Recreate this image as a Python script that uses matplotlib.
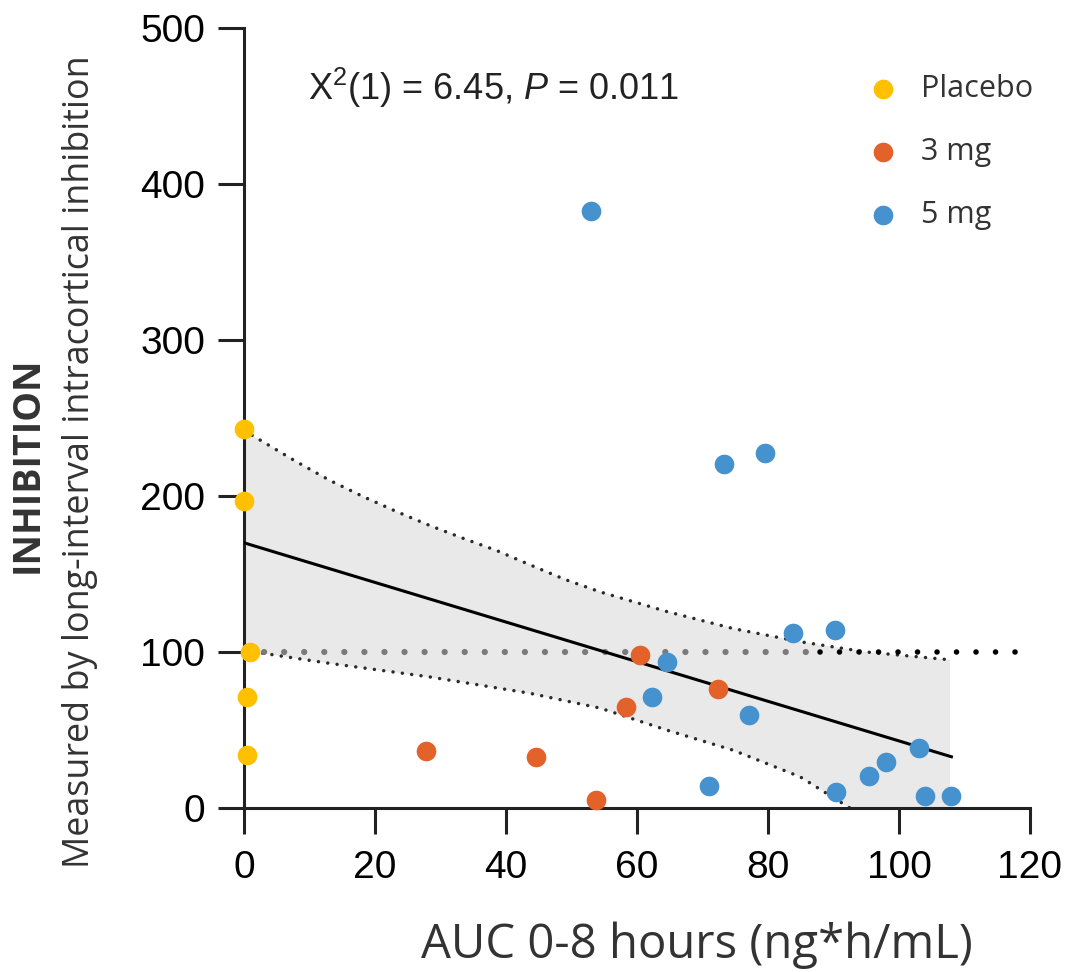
import numpy as np
import matplotlib
matplotlib.use("Agg")
import matplotlib.pyplot as plt

plt.rcParams['font.family'] = ['Liberation Sans', 'DejaVu Sans']
plt.rcParams['mathtext.fontset'] = 'custom'
plt.rcParams['mathtext.rm'] = 'Liberation Sans'
plt.rcParams['mathtext.it'] = 'Liberation Sans:italic'

# data
placebo_x = [0, 0, 0.9, 0.5, 0.5]
placebo_y = [243, 197, 100, 71, 34]

mg3_x = [27.8, 44.6, 53.7, 60.5, 58.3, 72.4]
mg3_y = [36.5, 33, 5, 98, 65, 76]

mg5_x = [53, 73.3, 79.5, 83.8, 90.2, 64.6, 62.3, 77.1, 71, 90.4, 95.4, 98, 103, 104, 108]
mg5_y = [383, 220.5, 227.6, 112, 114, 93.6, 71, 59.6, 14, 10, 20.5, 29.5, 38.5, 7.7, 7.7]

fit_intercept = 170
fit_slope = -1.27
fit_xmax = 108

ci_up_x = [0, 8.0, 13.1, 18.2, 23.3, 28.4, 33.5, 38.6, 43.7, 49, 54.4, 64.5, 74.7, 84.9, 95, 107.8]
ci_up_y = [242, 222, 210, 199.6, 190, 181, 172.8, 165, 155.8, 146.5, 138.5, 126, 115, 106.6, 100, 95]
ci_lo_x = [0, 13.1, 28.4, 43.7, 54.4, 64.5, 74.7, 84.9, 92.5]
ci_lo_y = [101, 92.7, 84, 73.5, 64, 50, 37, 20, 0]

ref_level = 100

colors = {'Placebo': '#FFC000', '3 mg': '#E2622A', '5 mg': '#4592CF'}

fig = plt.figure(figsize=(10.71, 9.72), dpi=100)
ax = fig.add_axes([244/1071, 1-808/972, (1030-244)/1071, (808-28)/972])

# confidence band
poly_x = ci_up_x + [ci_up_x[-1]] + ci_lo_x[::-1]
poly_y = ci_up_y + [0] + ci_lo_y[::-1]
ax.fill(poly_x, poly_y, color='#E9E9E9', lw=0, zorder=1)

ax.plot(ci_up_x, ci_up_y, color='#2a2a2a', lw=2.5, linestyle=(0, (0.01, 2.7)),
        dash_capstyle='round', zorder=2)
ax.plot(ci_lo_x, ci_lo_y, color='#2a2a2a', lw=2.5, linestyle=(0, (0.01, 2.7)),
        dash_capstyle='round', zorder=2)

# reference line at 100
ax.plot([0, 88], [ref_level, ref_level], color='#7a7a7a', lw=4.5,
        linestyle=(0, (0.01, 3.2)), dash_capstyle='round', zorder=2)
ax.plot([88, 120], [ref_level, ref_level], color='black', lw=4.0,
        linestyle=(0, (0.01, 3.5)), dash_capstyle='round', zorder=2)

# regression line
fx = np.array([0, fit_xmax])
ax.plot(fx, fit_intercept + fit_slope * fx, color='black', lw=2.2, zorder=3)

ms = 200
ax.scatter(placebo_x, placebo_y, s=ms, color=colors['Placebo'], lw=0, clip_on=False, zorder=5, label='Placebo')
ax.scatter(mg3_x, mg3_y, s=ms, color=colors['3 mg'], lw=0, clip_on=False, zorder=5, label='3 mg')
ax.scatter(mg5_x, mg5_y, s=ms, color=colors['5 mg'], lw=0, clip_on=False, zorder=5, label='5 mg')

ax.set_xlim(0, 120)
ax.set_ylim(0, 500)
ax.set_xticks(range(0, 121, 20))
ax.set_yticks(range(0, 501, 100))
for s in ['top', 'right']:
    ax.spines[s].set_visible(False)
for s in ['left', 'bottom']:
    ax.spines[s].set_linewidth(2.2)
    ax.spines[s].set_color('#222222')
ax.tick_params(axis='both', length=19, width=2.2, color='#222222', labelsize=28)
ax.tick_params(axis='y', pad=9)
ax.tick_params(axis='x', pad=11)

ax.text(9.8, 461.5, r'X$^2$(1) = 6.45, $\mathit{P}$ = 0.011', fontsize=26,
        va='center', ha='left', color='#222222')

leg = ax.legend(loc='upper left', bbox_to_anchor=((868-244)/786, 1-(74-28)/780),
                frameon=False, handletextpad=0.75, labelspacing=1.08, borderpad=0,
                prop={'family': ['Open Sans', 'DejaVu Sans'], 'size': 22}, handlelength=1.0,
                borderaxespad=0)
for t in leg.get_texts():
    t.set_color('#333333')

fig.text(697/1071, 1-945/972, 'AUC 0-8 hours (ng*h/mL)', fontsize=34,
         family=['Open Sans', 'DejaVu Sans'], color='#333333', ha='center', va='center')

fig.text(28/1071, 1-465/972, 'INHIBITION', rotation=90, fontsize=27, fontweight='bold',
         family=['Open Sans', 'DejaVu Sans'], color='#333333',
         ha='center', va='center')
fig.text(80/1071, 1-462/972, 'Measured by long-interval intracortical inhibition', rotation=90,
         fontsize=25.8, family=['Open Sans', 'DejaVu Sans'], color='#333333',
         ha='center', va='center')

fig.savefig('out.png', dpi=100)
